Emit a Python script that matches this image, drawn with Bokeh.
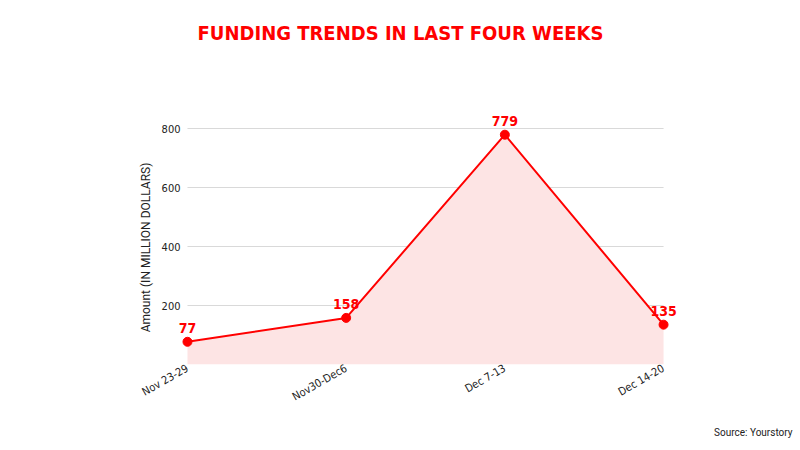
import math
from bokeh.plotting import figure
from bokeh.models import ColumnDataSource, Label, Range1d, FixedTicker, CustomJSTickFormatter, Title
from bokeh.embed import file_html
from bokeh.resources import INLINE

weeks = ["Nov 23-29", "Nov30-Dec6", "Dec 7-13", "Dec 14-20"]
amounts = [77, 158, 779, 135]
y_ticks = [200, 400, 600, 800]

COND = "DejaVu Sans Condensed"

xs = list(range(len(weeks)))
src = ColumnDataSource(dict(x=xs, y=amounts))
grid = ColumnDataSource(dict(x0=[xs[0]] * len(y_ticks), x1=[xs[-1]] * len(y_ticks), y=y_ticks))

p = figure(width=800, height=450, output_backend="svg", toolbar_location=None,
           x_range=Range1d(-0.359, 3.863), y_range=Range1d(0, 1234),
           min_border_left=130, min_border_right=0, min_border_top=0, min_border_bottom=86)
p.outline_line_color = None
p.background_fill_color = "white"
p.xgrid.grid_line_color = None
p.ygrid.grid_line_color = None

p.segment(x0="x0", x1="x1", y0="y", y1="y", source=grid, line_color="#d9d9d9", line_width=1)
p.varea(x="x", y1=0, y2="y", source=src, fill_color="#fde4e4", fill_alpha=1)
p.line(x="x", y="y", source=src, line_color="#ff0000", line_width=2)
p.scatter(x="x", y="y", source=src, size=9, fill_color="#ff0000", line_color="#ff0000")

for xi, a in zip(xs, amounts):
    p.add_layout(Label(x=xi, y=a, text=str(a), y_offset=9, text_align="center",
                       text_color="#ff0000", text_font_style="bold", text_font_size="14px",
                       text_font=COND))

p.xaxis.ticker = FixedTicker(ticks=xs)
p.xaxis.formatter = CustomJSTickFormatter(args=dict(names=weeks), code="return names[tick];")
p.xaxis.major_label_orientation = 0.52
p.xaxis.axis_line_color = None
p.xaxis.major_tick_line_color = None
p.xaxis.minor_tick_line_color = None
p.xaxis.major_tick_in = 0
p.xaxis.major_tick_out = 0
p.xaxis.major_label_standoff = 3
p.xaxis.major_label_text_font_size = "11px"
p.xaxis.major_label_text_color = "#222222"
p.xaxis.major_label_text_font = COND

p.yaxis.ticker = FixedTicker(ticks=y_ticks)
p.yaxis.axis_line_color = None
p.yaxis.major_tick_line_color = None
p.yaxis.minor_tick_line_color = None
p.yaxis.major_tick_in = 0
p.yaxis.major_tick_out = 0
p.yaxis.major_label_standoff = -50
p.yaxis.major_label_text_font_size = "11px"
p.yaxis.major_label_text_color = "#222222"
p.yaxis.major_label_text_font = COND

# screen units are measured from the frame's bottom-left corner (frame left at x=130, bottom at y=364)
ylab = Label(x=15, y=117, x_units="screen", y_units="screen", text="Amount (IN MILLION DOLLARS)",
             angle=math.pi / 2, text_align="center", text_baseline="middle", text_color="#222222",
             text_font_size="12px", text_font="Roboto")
p.add_layout(ylab)

title = Label(x=270, y=332, x_units="screen", y_units="screen", text="FUNDING TRENDS IN LAST FOUR WEEKS",
              text_align="center", text_baseline="middle", text_color="#ff0000", text_font_style="bold",
              text_font_size="20px", text_font=COND)
p.add_layout(title)

src_title = Title(text="Source: Yourstory", align="right", offset=8, standoff=24, text_font_size="10px",
                  text_font="Roboto", text_font_style="normal", text_color="#222222")
p.add_layout(src_title, "below")

open("out.html", "w").write(file_html(p, INLINE))
